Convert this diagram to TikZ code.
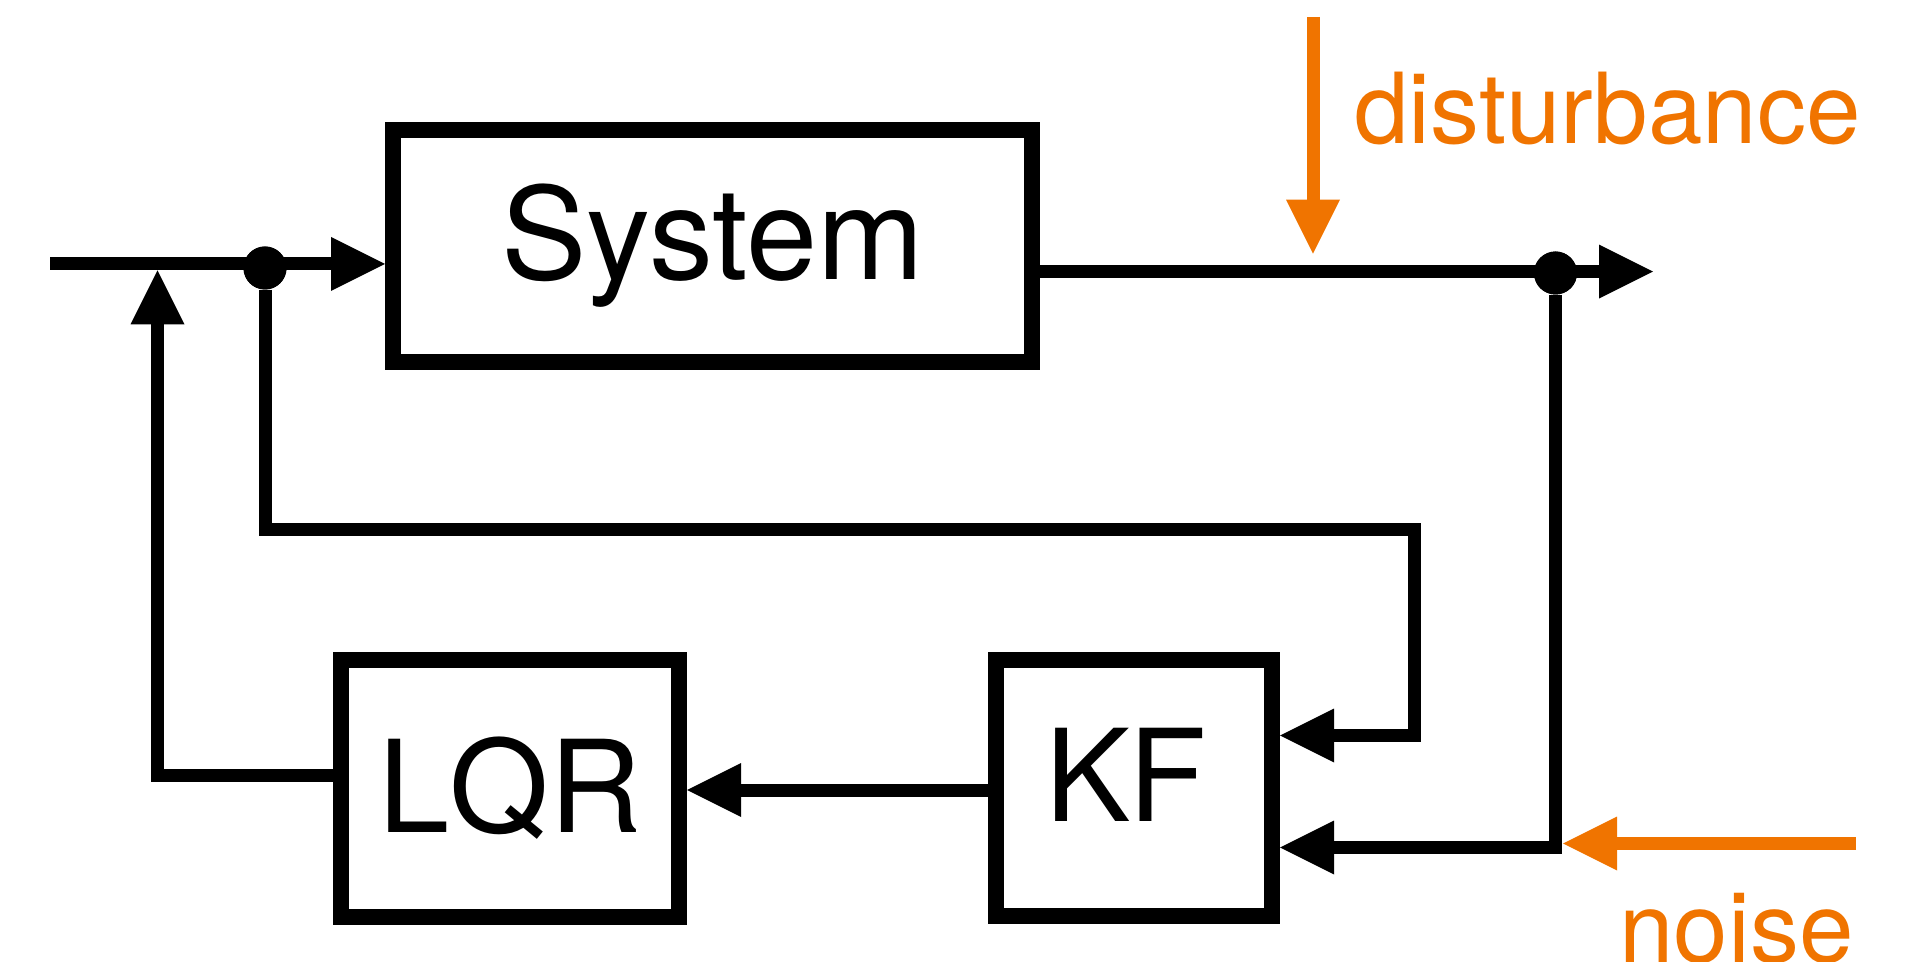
\documentclass[tikz,border=0pt]{standalone}
\usepackage{fontspec}
\setmainfont{TeX Gyre Heros}
\usetikzlibrary{arrows.meta}
\definecolor{dorange}{RGB}{240,116,0}
\begin{document}
\begin{tikzpicture}[x=0.5pt,y=-0.5pt,
  blk/.style={draw,line width=8pt,inner sep=0pt,font=\fontsize{64}{70}\selectfont},
  conn/.style={line width=6.5pt,line join=miter},
  hd/.style={-{Triangle[length=27pt,width=27pt,line width=0pt]}},
  dotnode/.style={circle,fill,inner sep=0pt,minimum size=21.5pt},
  lbl/.style={text=dorange,inner sep=0pt,anchor=base west,font=\fontsize{49}{54}\selectfont}]
\useasboundingbox (0,0) rectangle (1918,962);
% blocks
\node[blk,minimum width=319.5pt,minimum height=116pt] (sys) at (712.5,246) {System};
\node[blk,minimum width=169pt,minimum height=128.5pt] (lqr) at (510,788.5) {LQR};
\node[blk,minimum width=138pt,minimum height=128pt,text depth=13pt] (kf) at (1134,788) {\hspace*{-8pt}K\kern-1pt F};
% helper coordinates
\coordinate (in) at (50,264);
\coordinate (uin) at (157.5,270.5);
\coordinate (ucorner) at (157.5,775);
\coordinate (fbc) at (1414.5,529.6);
\coordinate (kfin1) at (1280,735.5);
\coordinate (kfin2) at (1280,847.5);
\coordinate (kfo) at (1000,790);
\coordinate (out) at (1653,271.6);
\coordinate (dtop) at (1313,17);
\coordinate (dtip) at (1313,253.6);
\coordinate (nstart) at (1856,843.5);
\coordinate (ntip) at (1563,843.5);
% junction dots
\node[dotnode] (d1) at (265,268) {};
\node[dotnode] (d2) at (1555.5,273) {};
% connectors
\draw[conn,hd] (in) -- (sys.west |- in);
\draw[conn,hd] (lqr.west |- ucorner) -| (uin);
\draw[conn,hd] (d1) |- (fbc) |- (kf.east |- kfin1);
\draw[conn,hd] (sys.east |- out) -- (out);
\draw[conn,hd] (d2) |- (kf.east |- kfin2);
\draw[conn,hd] (kf.west |- kfo) -- (lqr.east |- kfo);
\draw[conn,hd,dorange] (dtop) -- (dtip);
\draw[conn,hd,dorange] (nstart) -- (ntip);
% redraw dots on top
\fill (d1) circle (21.5);
\fill (d2) circle (21.5);
% labels
\node[lbl] (dist) at (1354,144) {disturbance};
\node[lbl] (noise) at (1619,962) {noise};
\end{tikzpicture}
\end{document}
